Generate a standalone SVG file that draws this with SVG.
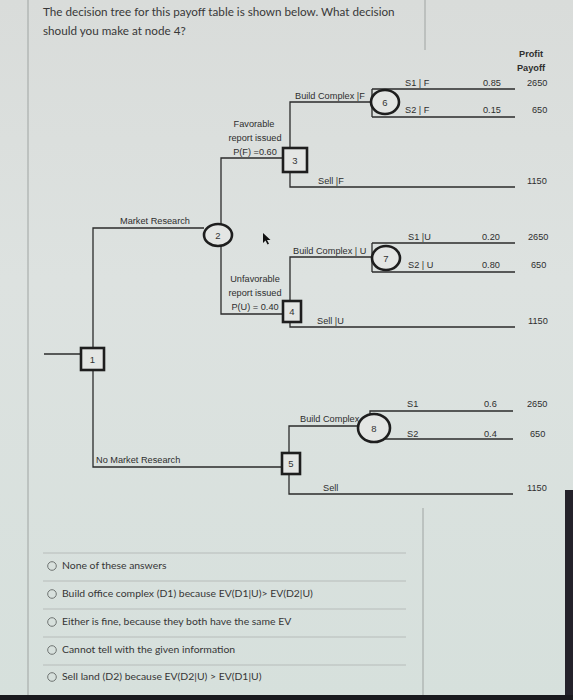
<svg xmlns="http://www.w3.org/2000/svg" width="573" height="700" viewBox="0 0 573 700">
<defs>
<linearGradient id="bg" x1="0" y1="0" x2="0" y2="1">
<stop offset="0" stop-color="#d9dcda"/>
<stop offset="0.4" stop-color="#dde2e0"/>
<stop offset="1" stop-color="#d6e0dc"/>
</linearGradient>
<style>
.ln{stroke:#2b2b2b;stroke-width:1.3;fill:none}
.nd{stroke:#1e1e1e;stroke-width:2.6;fill:#e4e6e4}
.t{font-family:"Liberation Sans",Arial,sans-serif;font-size:9.2px;fill:#2e2e2e}
.c{text-anchor:middle}
.b{font-weight:bold}
.n{font-family:"Liberation Sans",Arial,sans-serif;font-size:9.5px;fill:#333;text-anchor:middle}
.q{font-family:Lato,"Liberation Sans",sans-serif;font-size:11.7px;fill:#383838}
.a{font-family:Lato,"Liberation Sans",sans-serif;font-size:10.4px;fill:#363636}
.fr{stroke:#9fa4a2;stroke-width:1;fill:none}
.sep{stroke:#b7bcba;stroke-width:1}
.rd{fill:none;stroke:#6f7472;stroke-width:1}
</style>
</defs>
<rect x="0" y="0" width="573" height="700" fill="url(#bg)"/>
<rect x="565" y="490" width="8" height="210" fill="#24222a"/>
<rect x="0" y="695" width="573" height="5" fill="#1a1a1e"/>
<g id="frame">
<line class="fr" x1="28" y1="0" x2="28" y2="695"/>
<line class="fr" x1="425" y1="0" x2="425" y2="50"/>
<line class="fr" x1="423" y1="508" x2="423" y2="695"/>
</g>
<g id="question">
<text class="q" x="43" y="16">The decision tree for this payoff table is shown below.  What decision</text>
<text class="q" x="43" y="35">should you make at node 4?</text>
</g>
<g id="header">
<text class="t b c" x="531" y="57">Profit</text>
<text class="t b c" x="531" y="71">Payoff</text>
</g>
<g id="connectors">
<path class="ln" d="M44,354 H81"/>
<path class="ln" d="M93,348 V228 H204"/>
<path class="ln" d="M93,370 V467 H282"/>
<path class="ln" d="M221,224 V158 H283"/>
<path class="ln" d="M221,246 V314 H283"/>
<path class="ln" d="M290,148 V102 H372"/>
<path class="ln" d="M290,172 V187 H515"/>
<path class="ln" d="M372,89 V117 M372,89 H515 M372,117 H515"/>
<path class="ln" d="M290,301 V257 H372"/>
<path class="ln" d="M290,322 V327 H515"/>
<path class="ln" d="M372,243 V272 M372,243 H515 M372,272 H515"/>
<path class="ln" d="M289,453 V426 H358"/>
<path class="ln" d="M289,474 V494 H513"/>
<path class="ln" d="M370,414 V411 H513"/>
<path class="ln" d="M383,439 H513"/>
</g>
<g id="node1"><rect class="nd" x="81" y="348" width="23" height="22"/><text class="n" x="92.5" y="362.5">1</text></g>
<g id="node2"><ellipse class="nd" cx="218" cy="235" rx="14" ry="11"/><text class="n" x="218" y="238.5">2</text></g>
<g id="node3"><rect class="nd" x="283" y="148" width="24" height="24"/><text class="n" x="295" y="163.5">3</text></g>
<g id="node4"><rect class="nd" x="283" y="301" width="18" height="21"/><text class="n" x="292" y="315">4</text></g>
<g id="node5"><rect class="nd" x="282" y="453" width="18" height="21"/><text class="n" x="291" y="467">5</text></g>
<g id="node6"><ellipse class="nd" cx="385" cy="102" rx="14" ry="12"/><text class="n" x="385" y="105.5">6</text></g>
<g id="node7"><ellipse class="nd" cx="386" cy="258" rx="14" ry="12"/><text class="n" x="386" y="261.5">7</text></g>
<g id="node8"><ellipse class="nd" cx="374" cy="428" rx="16" ry="14"/><text class="n" x="374" y="431.5">8</text></g>
<g id="labels">
<text class="t" x="405" y="86">S1 | F</text>
<text class="t" x="483" y="86">0.85</text>
<text class="t" x="527" y="86">2650</text>
<text class="t" x="295" y="99">Build Complex |F</text>
<text class="t" x="405" y="113">S2 | F</text>
<text class="t" x="483" y="113">0.15</text>
<text class="t" x="532" y="113">650</text>
<text class="t c" x="254" y="127">Favorable</text>
<text class="t c" x="255" y="141">report issued</text>
<text class="t c" x="255" y="155">P(F) =0.60</text>
<text class="t" x="318" y="184">Sell |F</text>
<text class="t" x="527" y="184">1150</text>
<text class="t" x="120" y="224">Market Research</text>
<text class="t" x="408" y="240">S1 |U</text>
<text class="t" x="482" y="240">0.20</text>
<text class="t" x="528" y="240">2650</text>
<text class="t" x="293" y="254">Build Complex | U</text>
<text class="t" x="408" y="268">S2 | U</text>
<text class="t" x="482" y="268">0.80</text>
<text class="t" x="531" y="268">650</text>
<text class="t c" x="255" y="282">Unfavorable</text>
<text class="t c" x="255" y="296">report issued</text>
<text class="t c" x="255" y="310">P(U) = 0.40</text>
<text class="t" x="317" y="324">Sell |U</text>
<text class="t" x="528" y="324">1150</text>
<text class="t" x="407" y="407">S1</text>
<text class="t" x="484" y="407">0.6</text>
<text class="t" x="527" y="407">2650</text>
<text class="t" x="300" y="422">Build Complex</text>
<text class="t" x="407" y="437">S2</text>
<text class="t" x="484" y="437">0.4</text>
<text class="t" x="530" y="437">650</text>
<text class="t" x="96" y="463">No Market Research</text>
<text class="t" x="323" y="491">Sell</text>
<text class="t" x="527" y="491">1150</text>
</g>
<g id="cursor"><polygon points="263,233 263,243 265.5,240.5 267.5,244.5 269,243.8 267,240 270.5,240" fill="#111"/></g>
<g id="answers">
<line class="sep" x1="43" y1="553" x2="406" y2="553"/>
<line class="sep" x1="43" y1="581" x2="406" y2="581"/>
<line class="sep" x1="43" y1="609" x2="406" y2="609"/>
<line class="sep" x1="43" y1="637" x2="406" y2="637"/>
<line class="sep" x1="43" y1="665" x2="406" y2="665"/>
<circle class="rd" cx="52" cy="566" r="4.3"/>
<text class="a" x="62" y="569">None of these answers</text>
<circle class="rd" cx="52" cy="594" r="4.3"/>
<text class="a" x="62" y="597">Build office complex (D1) because EV(D1|U)&gt; EV(D2|U)</text>
<circle class="rd" cx="52" cy="622" r="4.3"/>
<text class="a" x="62" y="625">Either is fine, because they both have the same EV</text>
<circle class="rd" cx="52" cy="650" r="4.3"/>
<text class="a" x="62" y="653">Cannot tell with the given information</text>
<circle class="rd" cx="52" cy="677" r="4.3"/>
<text class="a" x="62" y="680">Sell land (D2) because EV(D2|U) &gt; EV(D1|U)</text>
</g>
</svg>
